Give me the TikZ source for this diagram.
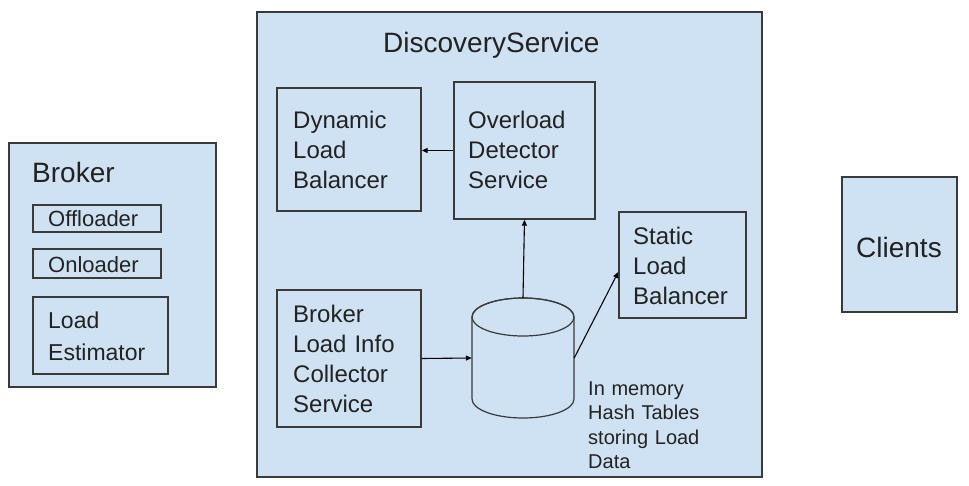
\documentclass[tikz,border=0pt]{standalone}
\usepackage{fontspec}
\setmainfont{Liberation Sans}
\usetikzlibrary{arrows.meta}
\definecolor{bluefill}{HTML}{CFE2F3}
\definecolor{edgegray}{HTML}{3A3A3A}
\definecolor{inkgray}{HTML}{222222}
\tikzset{
  box/.style={draw=edgegray, line width=1.4pt, fill=bluefill, inner sep=0pt},
  title/.style={text=inkgray, inner sep=0pt, anchor=base west, font=\fontsize{28}{34}\selectfont},
  body/.style={text=inkgray, inner sep=0pt, anchor=base west, align=left, text width=150pt,
               font=\fontsize{24}{30}\selectfont},
  part/.style={text=inkgray, inner sep=0pt, anchor=base west, font=\fontsize{22}{27}\selectfont},
  note/.style={text=inkgray, inner sep=0pt, anchor=base west, align=left, text width=130pt,
               font=\fontsize{20}{24.5}\selectfont},
  link/.style={draw=black, line width=1.1pt, -{Triangle[length=6pt,width=5pt]}},
}
\begin{document}
\begin{tikzpicture}[x=1pt, y=-1pt]
\useasboundingbox (0,0) rectangle (969,485);

% Broker with its components
\node[box, minimum width=207pt, minimum height=244pt] (broker) at (112.5,265) {};
\node[title] (brokertitle) at (32,182) {Broker};
\node[box, minimum width=128pt, minimum height=27pt] (offl) at (97,218.5) {};
\node[part] (offltext) at (48,226) {Offloader};
\node[box, minimum width=128pt, minimum height=29pt] (onl) at (97,263.5) {};
\node[part] (onltext) at (48,272) {Onloader};
\node[box, minimum width=135pt, minimum height=77pt] (est) at (100.5,335.5) {};
\node[body, font=\fontsize{23}{32}\selectfont] (esttext) at (48,328) {Load\\Estimator};

% Discovery service
\node[box, minimum width=505pt, minimum height=465pt] (disc) at (509.5,244.5) {};
\node[title] (disctitle) at (383,52) {DiscoveryService};

\node[box, minimum width=144pt, minimum height=123pt] (dlb) at (349,149.5) {};
\node[body] (dlbtext) at (293,128) {Dynamic\\Load\\Balancer};

\node[box, minimum width=141pt, minimum height=137pt] (ods) at (524.5,150.5) {};
\node[body] (odstext) at (468,128) {Overload\\Detector\\Service};

\node[box, minimum width=127pt, minimum height=106pt] (slb) at (682.5,265) {};
\node[body] (slbtext) at (633,244) {Static\\Load\\Balancer};

\node[box, minimum width=144pt, minimum height=137pt] (blic) at (349,358.5) {};
\node[body] (blictext) at (293,322) {Broker\\Load Info\\Collector\\Service};

% In-memory store drawn as a cylinder
\node[inner sep=0pt, minimum width=102pt, minimum height=120pt] (store) at (523,358) {};
\filldraw[draw=edgegray, line width=1.2pt, fill=bluefill]
  (472,317) -- (472,399) arc[start angle=180, end angle=0, x radius=51, y radius=19]
  -- (574,317) arc[start angle=0, end angle=-180, x radius=51, y radius=19] -- cycle;
\draw[draw=edgegray, line width=1.2pt] (523,317) ellipse[x radius=51, y radius=19];
\node[note] (storetext) at (588,395) {In memory\\Hash Tables\\storing Load\\Data};

% Clients
\node[box, minimum width=115pt, minimum height=135pt] (clients) at (899.5,244.5) {};
\node[title] (clientstext) at (856,257) {Clients};

% Connectors
\draw[link] (ods.west) -- (dlb.east |- ods.west);
\draw[link] (store.north) -- (ods.south);
\draw[link] (store.east) -- ([yshift=-7pt]slb.west);
\draw[link] (blic.east) -- (store.west);
\end{tikzpicture}
\end{document}
